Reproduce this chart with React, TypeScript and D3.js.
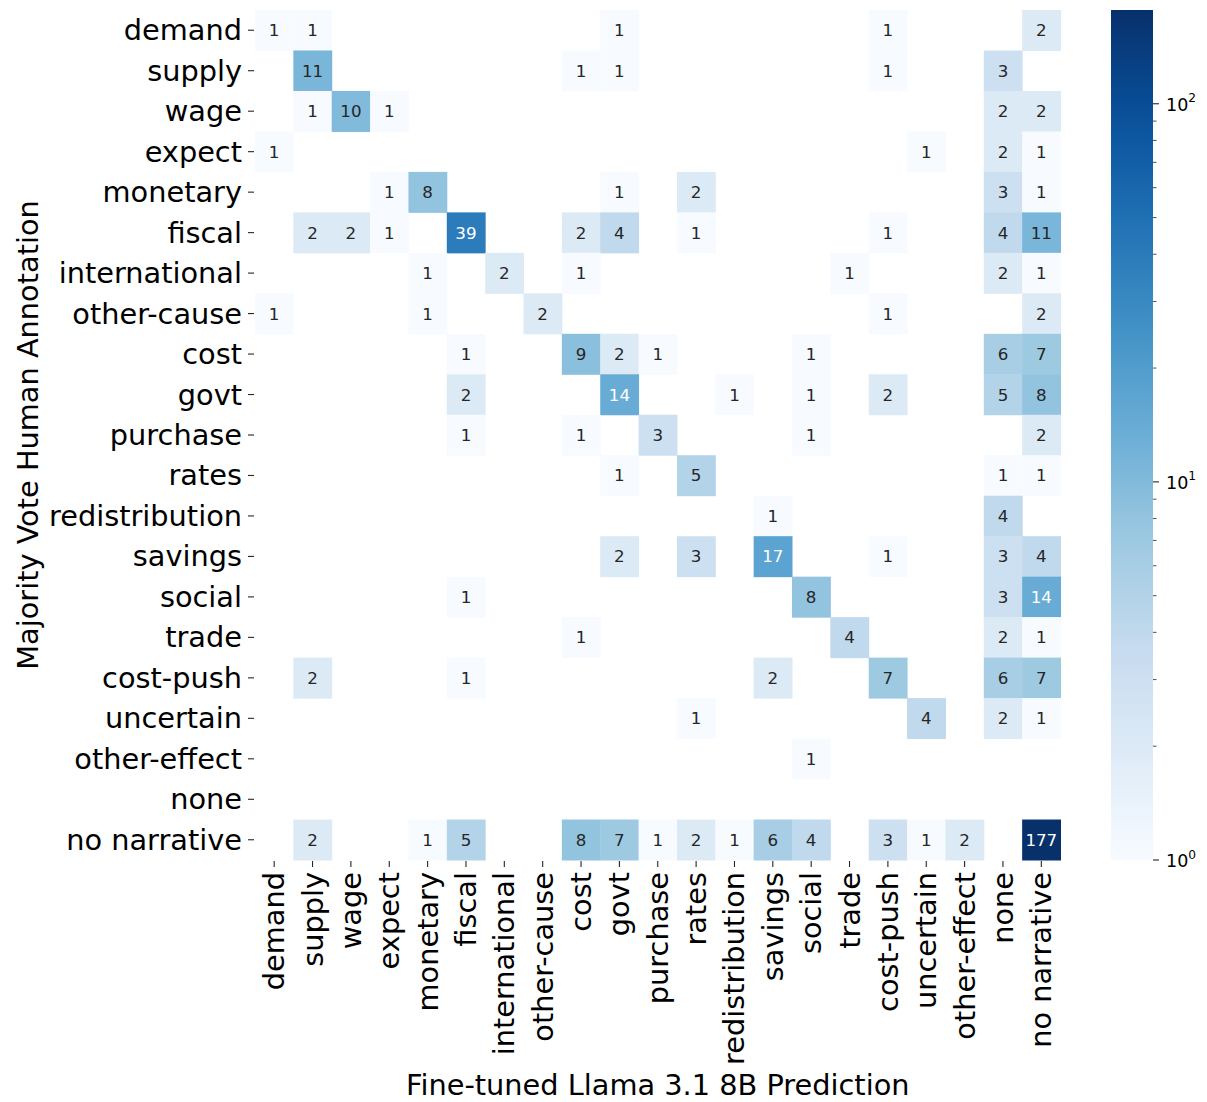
import { useEffect, useRef } from "react";
import * as d3 from "d3";

const labels = [
  "demand", "supply", "wage", "expect", "monetary", "fiscal", "international",
  "other-cause", "cost", "govt", "purchase", "rates", "redistribution", "savings",
  "social", "trade", "cost-push", "uncertain", "other-effect", "none", "no narrative",
];

// rows = human annotation, columns = model prediction (0 = empty cell)
const demandRow = [1, 1, 0, 0, 0, 0, 0, 0, 0, 1, 0, 0, 0, 0, 0, 0, 1, 0, 0, 0, 2];
const supplyRow = [0, 11, 0, 0, 0, 0, 0, 0, 1, 1, 0, 0, 0, 0, 0, 0, 1, 0, 0, 3, 0];
const wageRow = [0, 1, 10, 1, 0, 0, 0, 0, 0, 0, 0, 0, 0, 0, 0, 0, 0, 0, 0, 2, 2];
const expectRow = [1, 0, 0, 0, 0, 0, 0, 0, 0, 0, 0, 0, 0, 0, 0, 0, 0, 1, 0, 2, 1];
const monetaryRow = [0, 0, 0, 1, 8, 0, 0, 0, 0, 1, 0, 2, 0, 0, 0, 0, 0, 0, 0, 3, 1];
const fiscalRow = [0, 2, 2, 1, 0, 39, 0, 0, 2, 4, 0, 1, 0, 0, 0, 0, 1, 0, 0, 4, 11];
const internationalRow = [0, 0, 0, 0, 1, 0, 2, 0, 1, 0, 0, 0, 0, 0, 0, 1, 0, 0, 0, 2, 1];
const otherCauseRow = [1, 0, 0, 0, 1, 0, 0, 2, 0, 0, 0, 0, 0, 0, 0, 0, 1, 0, 0, 0, 2];
const costRow = [0, 0, 0, 0, 0, 1, 0, 0, 9, 2, 1, 0, 0, 0, 1, 0, 0, 0, 0, 6, 7];
const govtRow = [0, 0, 0, 0, 0, 2, 0, 0, 0, 14, 0, 0, 1, 0, 1, 0, 2, 0, 0, 5, 8];
const purchaseRow = [0, 0, 0, 0, 0, 1, 0, 0, 1, 0, 3, 0, 0, 0, 1, 0, 0, 0, 0, 0, 2];
const ratesRow = [0, 0, 0, 0, 0, 0, 0, 0, 0, 1, 0, 5, 0, 0, 0, 0, 0, 0, 0, 1, 1];
const redistributionRow = [0, 0, 0, 0, 0, 0, 0, 0, 0, 0, 0, 0, 0, 1, 0, 0, 0, 0, 0, 4, 0];
const savingsRow = [0, 0, 0, 0, 0, 0, 0, 0, 0, 2, 0, 3, 0, 17, 0, 0, 1, 0, 0, 3, 4];
const socialRow = [0, 0, 0, 0, 0, 1, 0, 0, 0, 0, 0, 0, 0, 0, 8, 0, 0, 0, 0, 3, 14];
const tradeRow = [0, 0, 0, 0, 0, 0, 0, 0, 1, 0, 0, 0, 0, 0, 0, 4, 0, 0, 0, 2, 1];
const costPushRow = [0, 2, 0, 0, 0, 1, 0, 0, 0, 0, 0, 0, 0, 2, 0, 0, 7, 0, 0, 6, 7];
const uncertainRow = [0, 0, 0, 0, 0, 0, 0, 0, 0, 0, 0, 1, 0, 0, 0, 0, 0, 4, 0, 2, 1];
const otherEffectRow = [0, 0, 0, 0, 0, 0, 0, 0, 0, 0, 0, 0, 0, 0, 1, 0, 0, 0, 0, 0, 0];
const noneRow = [0, 0, 0, 0, 0, 0, 0, 0, 0, 0, 0, 0, 0, 0, 0, 0, 0, 0, 0, 0, 0];
const noNarrativeRow = [0, 2, 0, 0, 1, 5, 0, 0, 8, 7, 1, 2, 1, 6, 4, 0, 3, 1, 2, 0, 177];

const matrix = [
  demandRow, supplyRow, wageRow, expectRow, monetaryRow, fiscalRow, internationalRow,
  otherCauseRow, costRow, govtRow, purchaseRow, ratesRow, redistributionRow, savingsRow,
  socialRow, tradeRow, costPushRow, uncertainRow, otherEffectRow, noneRow, noNarrativeRow,
];

const xTitle = "Fine-tuned Llama 3.1 8B Prediction";
const yTitle = "Majority Vote Human Annotation";

const bluesStops = [
  "#f7fbff", "#deebf7", "#c6dbef", "#9ecae1", "#6baed6",
  "#4292c6", "#2171b5", "#08519c", "#08306b",
];

const FONT = "'DejaVu Sans', sans-serif";

function luminance(c: string): number {
  const rgb = d3.rgb(c);
  const lin = [rgb.r, rgb.g, rgb.b].map((v) => {
    const s = v / 255;
    return s <= 0.03928 ? s / 12.92 : Math.pow((s + 0.055) / 1.055, 2.4);
  });
  return 0.2126 * lin[0] + 0.7152 * lin[1] + 0.0722 * lin[2];
}

export default function App() {
  const svgRef = useRef<SVGSVGElement>(null);

  useEffect(() => {
    const svg = svgRef.current;
    if (!svg) return;
    d3.select(svg).selectAll("*").remove();

    const width = 1207;
    const height = 1102;
    const plot = { left: 255, right: 1060.5, top: 10, bottom: 860 };
    const tickFont = 28.8;

    const vmax = d3.max(matrix.flat()) ?? 1;
    const interp = d3.piecewise(d3.interpolateRgb, bluesStops);
    const norm = d3.scaleLog().domain([1, vmax]).range([0, 1]).clamp(true);
    const color = (v: number) => interp(norm(v));

    const x = d3.scaleBand<string>().domain(labels).range([plot.left, plot.right]);
    const y = d3.scaleBand<string>().domain(labels).range([plot.top, plot.bottom]);

    const root = d3.select(svg).attr("width", width).attr("height", height);
    root.append("rect").attr("width", width).attr("height", height).attr("fill", "#fff");

    const cells = matrix.flatMap((row, i) =>
      row.map((v, j) => ({ row: labels[i], col: labels[j], v }))
    ).filter((d) => d.v > 0);

    root.append("g")
      .selectAll("rect")
      .data(cells)
      .enter()
      .append("rect")
      .attr("x", (d) => x(d.col)!)
      .attr("y", (d) => y(d.row)!)
      .attr("width", x.bandwidth() + 0.5)
      .attr("height", y.bandwidth() + 0.5)
      .attr("fill", (d) => color(d.v));

    root.append("g")
      .selectAll("text")
      .data(cells)
      .enter()
      .append("text")
      .attr("x", (d) => x(d.col)! + x.bandwidth() / 2)
      .attr("y", (d) => y(d.row)! + y.bandwidth() / 2)
      .attr("text-anchor", "middle")
      .attr("dominant-baseline", "central")
      .attr("font-family", FONT)
      .attr("font-size", 16.7)
      .attr("fill", (d) => (luminance(color(d.v)) > 0.408 ? "#262626" : "#ffffff"))
      .text((d) => d.v);

    // y axis
    const yAxis = root.append("g");
    labels.forEach((l) => {
      const cy = y(l)! + y.bandwidth() / 2;
      yAxis.append("line")
        .attr("x1", plot.left - 7).attr("x2", plot.left - 1)
        .attr("y1", cy).attr("y2", cy)
        .attr("stroke", "#262626").attr("stroke-width", 1.1);
      yAxis.append("text")
        .attr("x", plot.left - 13)
        .attr("y", cy)
        .attr("text-anchor", "end")
        .attr("dominant-baseline", "central")
        .attr("font-family", FONT)
        .attr("font-size", tickFont)
        .attr("fill", "#000")
        .text(l);
    });

    // x axis
    const xAxis = root.append("g");
    labels.forEach((l) => {
      const cx = x(l)! + x.bandwidth() / 2;
      xAxis.append("line")
        .attr("x1", cx).attr("x2", cx)
        .attr("y1", plot.bottom + 1).attr("y2", plot.bottom + 7)
        .attr("stroke", "#262626").attr("stroke-width", 1.1);
      xAxis.append("text")
        .attr("transform", `translate(${cx},${plot.bottom + 12}) rotate(-90)`)
        .attr("text-anchor", "end")
        .attr("dominant-baseline", "central")
        .attr("font-family", FONT)
        .attr("font-size", tickFont)
        .attr("fill", "#000")
        .text(l);
    });

    root.append("text")
      .attr("x", (plot.left + plot.right) / 2)
      .attr("y", 1095)
      .attr("text-anchor", "middle")
      .attr("font-family", FONT)
      .attr("font-size", tickFont)
      .text(xTitle);

    root.append("text")
      .attr("transform", `translate(38,${(plot.top + plot.bottom) / 2}) rotate(-90)`)
      .attr("text-anchor", "middle")
      .attr("font-family", FONT)
      .attr("font-size", tickFont)
      .text(yTitle);

    // colorbar
    const cb = { left: 1111, right: 1153, top: plot.top, bottom: plot.bottom };
    const defs = root.append("defs");
    const grad = defs.append("linearGradient")
      .attr("id", "cbgrad")
      .attr("x1", 0).attr("y1", 1).attr("x2", 0).attr("y2", 0);
    d3.range(0, 1.0001, 0.05).forEach((t) => {
      grad.append("stop").attr("offset", t).attr("stop-color", interp(t));
    });
    root.append("rect")
      .attr("x", cb.left).attr("y", cb.top)
      .attr("width", cb.right - cb.left).attr("height", cb.bottom - cb.top)
      .attr("fill", "url(#cbgrad)");

    const cbScale = d3.scaleLog().domain([1, vmax]).range([cb.bottom, cb.top]);
    const majors = [1, 10, 100].filter((v) => v <= vmax);
    const minors = d3.range(0, 3).flatMap((e) =>
      d3.range(2, 10).map((m) => m * Math.pow(10, e))
    ).filter((v) => v <= vmax);

    const cbAxis = root.append("g");
    minors.forEach((v) => {
      cbAxis.append("line")
        .attr("x1", cb.right).attr("x2", cb.right + 3.5)
        .attr("y1", cbScale(v)).attr("y2", cbScale(v))
        .attr("stroke", "#262626").attr("stroke-width", 0.8);
    });
    majors.forEach((v) => {
      const ty = cbScale(v);
      cbAxis.append("line")
        .attr("x1", cb.right).attr("x2", cb.right + 6)
        .attr("y1", ty).attr("y2", ty)
        .attr("stroke", "#262626").attr("stroke-width", 1.1);
      const t = cbAxis.append("text")
        .attr("x", cb.right + 13)
        .attr("y", ty + 7)
        .attr("font-family", FONT)
        .attr("font-size", 17.5)
        .attr("fill", "#000");
      t.append("tspan").text("10");
      t.append("tspan")
        .attr("dy", -8.5)
        .attr("font-size", 12.2)
        .text(String(Math.round(Math.log10(v))));
    });
  }, []);

  return (
    <div style={{ position: "absolute", left: 0, top: 0 }}>
      <svg ref={svgRef} style={{ display: "block" }} />
    </div>
  );
}
